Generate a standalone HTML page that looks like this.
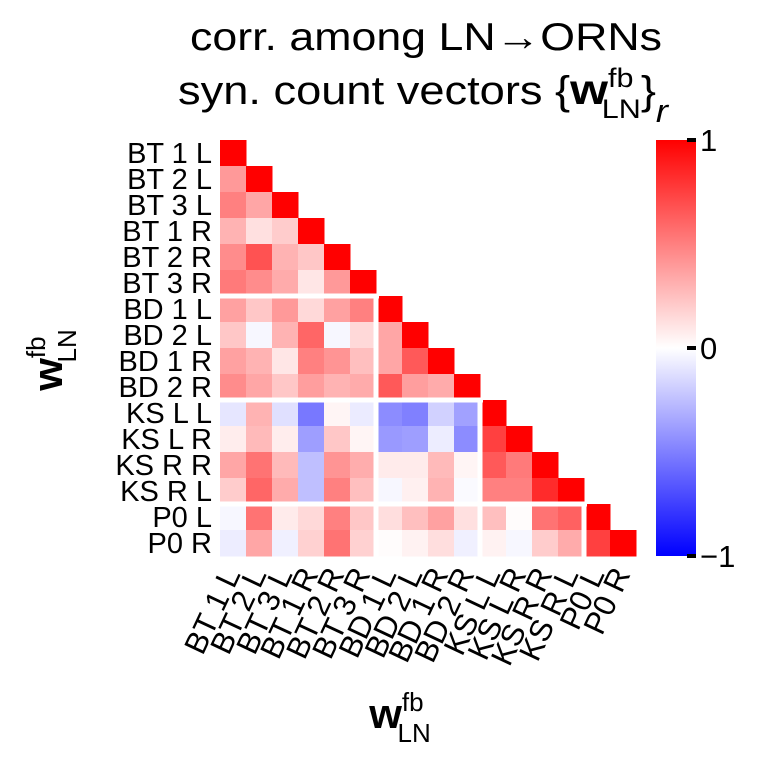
<!DOCTYPE html>
<html><head><meta charset="utf-8"><style>
body{margin:0;background:#fff}
svg{font-family:"Liberation Sans",Arial,sans-serif}
</style></head><body>
<svg id="chart" width="776" height="756" viewBox="0 0 776 756" xmlns="http://www.w3.org/2000/svg">
<text x="426" y="50" font-size="39" text-anchor="middle" textLength="472" lengthAdjust="spacingAndGlyphs">corr. among LN→ORNs</text>
<text x="178" y="104" font-size="40" textLength="490" lengthAdjust="spacingAndGlyphs">syn. count vectors {<tspan font-weight="bold" font-size="43">w</tspan><tspan font-size="27" dy="-17">fb</tspan><tspan font-size="27" dx="-28" dy="31">LN</tspan><tspan dy="-14">}</tspan><tspan font-size="32" font-style="italic" dy="18">r</tspan></text>
<g id="cells"></g>
<g id="seps"></g>
<g id="ylabels"></g>
<g id="xlabels"></g>
<text x="0" y="0" font-size="42" transform="translate(62,360) rotate(-90)" text-anchor="middle"><tspan font-weight="bold">w</tspan><tspan font-size="26" dy="-17">fb</tspan><tspan font-size="26" dx="-26" dy="31">LN</tspan></text>
<text x="400" y="728" font-size="42" text-anchor="middle"><tspan font-weight="bold">w</tspan><tspan font-size="26" dy="-17">fb</tspan><tspan font-size="26" dx="-26" dy="31">LN</tspan></text>
<defs><linearGradient id="cb" x1="0" y1="0" x2="0" y2="1"><stop offset="0" stop-color="#ff0000"/><stop offset="0.5" stop-color="#ffffff"/><stop offset="1" stop-color="#0000ff"/></linearGradient></defs>
<rect x="656" y="140" width="40" height="416" fill="url(#cb)"/>
<g id="cbticks"></g>
</svg>
<script>
const labels=["BT 1 L","BT 2 L","BT 3 L","BT 1 R","BT 2 R","BT 3 R","BD 1 L","BD 2 L","BD 1 R","BD 2 R","KS L L","KS L R","KS R R","KS R L","P0 L","P0 R"];
const rows=[
[1],
[0.4,1],
[0.5,0.35,1],
[0.3,0.12,0.2,1],
[0.45,0.68,0.3,0.22,1],
[0.52,0.45,0.33,0.1,0.4,1],
[0.37,0.22,0.4,0.15,0.37,0.5,1],
[0.22,-0.03,0.3,0.6,-0.03,0.15,0.35,1],
[0.37,0.3,0.1,0.5,0.42,0.25,0.35,0.65,1],
[0.45,0.35,0.22,0.38,0.3,0.33,0.65,0.38,0.33,1],
[-0.1,0.3,-0.12,-0.53,0.04,-0.08,-0.45,-0.5,-0.18,-0.37,1],
[0.07,0.27,0.07,-0.38,0.22,0.04,-0.4,-0.38,-0.07,-0.45,0.75,1],
[0.35,0.55,0.27,-0.25,0.42,0.32,0.08,0.08,0.27,0.04,0.65,0.52,1],
[0.2,0.6,0.33,-0.25,0.5,0.25,-0.03,0.06,0.3,-0.02,0.5,0.5,0.83,1],
[-0.03,0.55,0.08,0.15,0.5,0.22,0.13,0.25,0.37,0.12,0.25,0.01,0.55,0.62,1],
[-0.07,0.35,-0.06,0.18,0.55,0.18,0.01,0.05,0.13,-0.06,0.05,-0.03,0.2,0.33,0.75,1]
];
const groupBreaks=[6,10,14];
const cbTicks=[1,0,-1];
const cbTickLabels=["1","0","−1"];
const NS="http://www.w3.org/2000/svg";
const X0=220,Y0=140,C=26;
const xs=i=>X0+i*C, ys=i=>Y0+i*C;
const cbY=v=>140+(1-v)/2*416;
function col(r){r=Math.max(-1,Math.min(1,r));let a,b,c;
 if(r>=0){a=255;b=c=Math.round(255*(1-r));}else{a=b=Math.round(255*(1+r));c=255;}
 return `rgb(${a},${b},${c})`;}
function mk(t,at,p){const e=document.createElementNS(NS,t);for(const k in at)e.setAttribute(k,at[k]);p.appendChild(e);return e;}
const cells=document.getElementById('cells');
rows.forEach((row,i)=>row.forEach((v,j)=>{
 const r=mk('rect',{x:xs(j),y:ys(i),width:C+0.5,height:C+0.5,fill:col(v)},cells);
 
 
}));
const seps=document.getElementById('seps');
groupBreaks.forEach(b=>{
 const v=mk('rect',{x:xs(b)-2.5,y:ys(b)-2.5,width:5,height:ys(16)-ys(b)+3,fill:'#fff'},seps);
 
 
 const h=mk('rect',{x:X0,y:ys(b)-2.5,width:xs(b)-X0+3,height:5,fill:'#fff'},seps);
 
 
});
const yl=document.getElementById('ylabels'),xl=document.getElementById('xlabels');
labels.forEach((l,i)=>{
 const t=mk('text',{x:212,y:ys(i)+C/2+10,'font-size':29,'text-anchor':'end'},yl);t.textContent=l;
 
 
 const cx=xs(i)+C/2+8;
 const u=mk('text',{x:0,y:0,'font-size':31,'text-anchor':'end',transform:`translate(${cx},574) rotate(-65)`},xl);u.textContent=l;
 
 
});
const cbt=document.getElementById('cbticks');
cbTicks.forEach((v,i)=>{
 const y=cbY(v);
 const ln=mk('rect',{x:687,y:y-2,width:9,height:4,fill:'#000'},cbt);
 
 
 const t=mk('text',{x:700,y:y+11,'font-size':31},cbt);t.textContent=cbTickLabels[i];
 
 
});
</script>
</body></html>
